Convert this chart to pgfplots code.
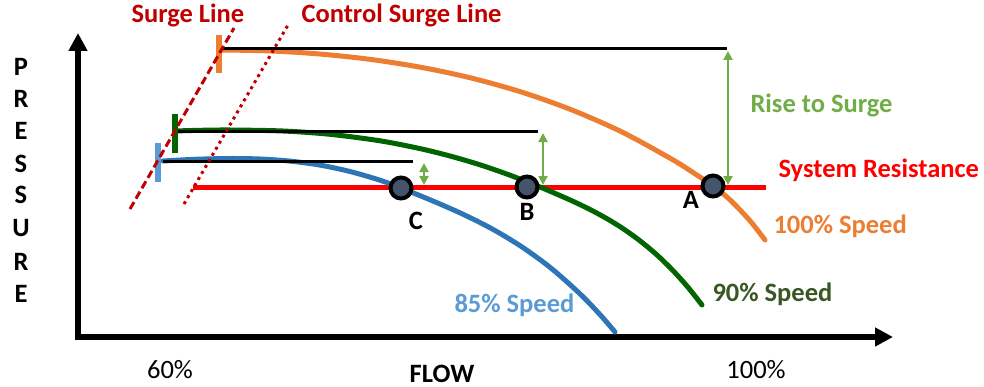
\documentclass[border=0pt]{standalone}
\usepackage{fontspec}
\setmainfont{Carlito}
\usepackage{pgfplots}
\pgfplotsset{compat=1.18}
\usetikzlibrary{arrows.meta}
\definecolor{darkred}{HTML}{C00000}
\definecolor{sysred}{HTML}{FF0000}
\definecolor{orangeC}{HTML}{ED7D31}
\definecolor{greenC}{HTML}{006400}
\definecolor{greenT}{HTML}{385723}
\definecolor{blueC}{HTML}{2E75B6}
\definecolor{blueT}{HTML}{5B9BD5}
\definecolor{riseG}{HTML}{70AD47}
\definecolor{ptfill}{HTML}{44546A}
\newcommand{\lbl}{\fontsize{26.5bp}{30bp}\selectfont}
\begin{document}
\begin{tikzpicture}
\begin{axis}[
  scale only axis, width=984bp, height=387bp,
  xmin=0, xmax=984, ymin=0, ymax=387, y dir=reverse,
  hide axis, clip=false,
]
\addplot[draw=none] coordinates {(0,0) (984,387)};
% axes
\addplot[black, line width=5.5bp, line join=miter,
  {Triangle[length=18bp,width=18bp]}-{Triangle[length=18bp,width=18bp]}]
  coordinates {(78,33) (78,337) (893,337)};
% system resistance
\addplot[sysred, line width=5bp] coordinates {(193,187) (766,187)};
% speed curves
\addplot[orangeC, line width=5bp, smooth, line cap=round] coordinates {
 (222,50) (272,51) (322,54.2) (372,59.6) (422,67.5) (472,78.2) (522,92.2)
 (572,110) (622,132) (672,159.3) (695,173.8) (713,186) (730,199.8)
 (750,220.8) (765,240)};
\addplot[greenC, line width=5bp, smooth, line cap=round] coordinates {
 (175,131) (200,130.3) (230,130) (283,131) (330,134.3) (380,140.8) (420,148.6)
 (450,156) (480,164.8) (510,175.2) (540,187) (556,193.8) (573,201.3)
 (590,209.5) (607,218.7) (623,228.6) (640,240.8) (657,255) (673,270.6)
 (688,287.3) (702,305)};
\addplot[blueC, line width=5bp, smooth, line cap=round] coordinates {
 (163,161) (195,159.3) (230,158.5) (260,159) (290,161.1) (320,165.1)
 (350,171.5) (380,180.2) (401,188) (431,200.2) (461,213.3) (491,228.3)
 (521,246.3) (551,268.1) (581,294.8) (601,315.7) (615,332)};
% black reference lines
\addplot[black, line width=3bp] coordinates {(222,49) (727,49)};
\addplot[black, line width=3bp] coordinates {(177,131) (538,131)};
\addplot[black, line width=3bp] coordinates {(163,161) (413,161)};
% rise arrows
\addplot[riseG, line width=2.5bp, {Triangle[length=9bp,width=9bp]}-{Triangle[length=9bp,width=9bp]}]
  coordinates {(728,51) (728,185)};
\addplot[riseG, line width=2.5bp, {Triangle[length=9bp,width=9bp]}-{Triangle[length=9bp,width=9bp]}]
  coordinates {(543,133) (543,185)};
\addplot[riseG, line width=2.5bp, {Triangle[length=9bp,width=9bp]}-{Triangle[length=9bp,width=9bp]}]
  coordinates {(424,163) (424,185)};
% surge ticks
\addplot[orangeC, line width=6bp] coordinates {(219,35) (219,73)};
\addplot[greenC, line width=6bp] coordinates {(175,114) (175,153)};
\addplot[blueT, line width=6bp] coordinates {(158,143) (158,182)};
% surge lines
\addplot[darkred, line width=3bp, dash pattern=on 8bp off 4bp] coordinates {(130,209) (234,28)};
\addplot[darkred, line width=3bp, dash pattern=on 3bp off 4bp] coordinates {(184,204) (288,25)};
% operating points
\addplot[only marks, mark=*, mark size=10.5bp, mark options={draw=black, fill=ptfill, line width=4bp}]
  coordinates {(401,188) (527,187) (713,186)};
% texts
\node[anchor=base west, text=darkred, font=\lbl\bfseries] at (axis cs:128,23) {Surge Line};
\node[anchor=base west, text=darkred, font=\lbl\bfseries] at (axis cs:298,23) {Control Surge Line};
\node[anchor=base west, text=riseG, font=\lbl\bfseries] at (axis cs:747,112) {Rise to Surge};
\node[anchor=base west, text=sysred, font=\lbl\bfseries] at (axis cs:775,177) {System Resistance};
\node[anchor=base west, text=orangeC, font=\lbl\bfseries] at (axis cs:770,233) {100\% Speed};
\node[anchor=base west, text=greenT, font=\lbl\bfseries] at (axis cs:709,301) {90\% Speed};
\node[anchor=base west, text=blueT, font=\lbl\bfseries] at (axis cs:451,312) {85\% Speed};
\node[anchor=base, font=\lbl\bfseries] at (axis cs:691,208) {A};
\node[anchor=base, font=\lbl\bfseries] at (axis cs:527,220) {B};
\node[anchor=base, font=\lbl\bfseries] at (axis cs:416,229) {C};
\node[anchor=base, font=\lbl] at (axis cs:170,378) {60\%};
\node[anchor=base, font=\lbl] at (axis cs:756,378) {100\%};
\node[anchor=base, font=\lbl\bfseries] at (axis cs:442,382) {FLOW};
\node[anchor=base, font=\lbl\bfseries] at (axis cs:21,75) {P};
\node[anchor=base, font=\lbl\bfseries] at (axis cs:21,107) {R};
\node[anchor=base, font=\lbl\bfseries] at (axis cs:21,139) {E};
\node[anchor=base, font=\lbl\bfseries] at (axis cs:21,172) {S};
\node[anchor=base, font=\lbl\bfseries] at (axis cs:21,203) {S};
\node[anchor=base, font=\lbl\bfseries] at (axis cs:21,236) {U};
\node[anchor=base, font=\lbl\bfseries] at (axis cs:21,270) {R};
\node[anchor=base, font=\lbl\bfseries] at (axis cs:21,302) {E};
\end{axis}
\end{tikzpicture}
\end{document}
